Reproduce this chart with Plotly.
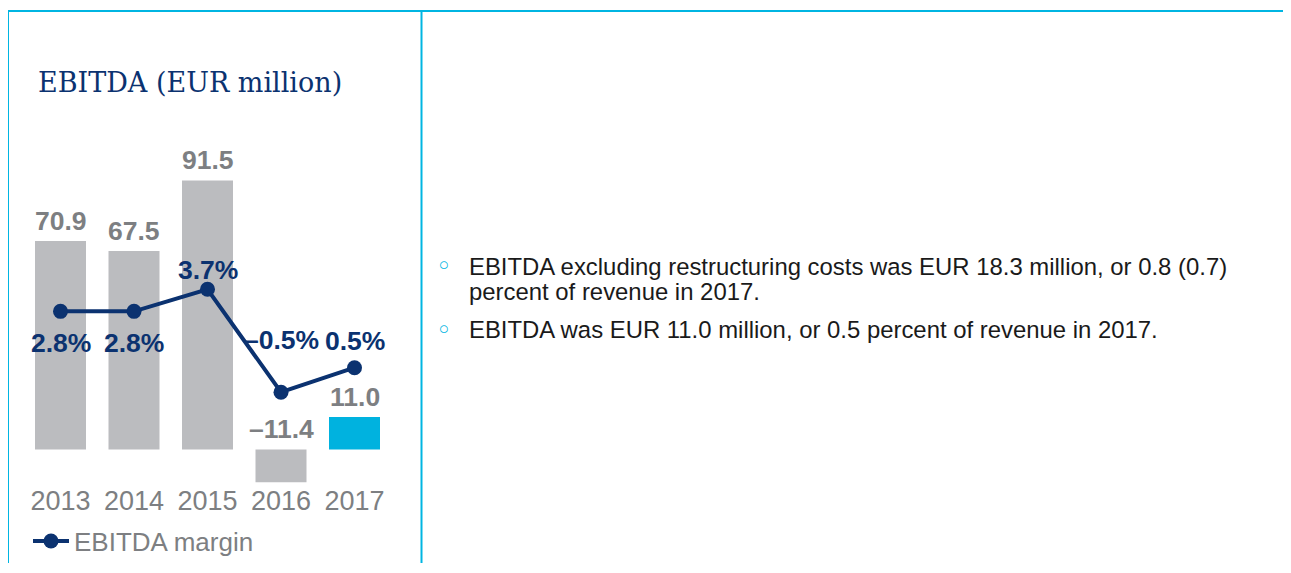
import plotly.graph_objects as go

# page body has an 8px margin: draw in a slightly smaller figure shifted by that offset
OFF = 8
W, H = 1291 - 2 * OFF, 573 - 2 * OFF

years = ["2013", "2014", "2015", "2016", "2017"]
ebitda = [70.9, 67.5, 91.5, -11.4, 11.0]
margin_pct = [2.8, 2.8, 3.7, -0.5, 0.5]
ebitda_labels = ["70.9", "67.5", "91.5", "–11.4", "11.0"]
margin_labels = ["2.8%", "2.8%", "3.7%", "–0.5%", "0.5%"]
bar_colors = ["#bbbcbf", "#bbbcbf", "#bbbcbf", "#bbbcbf", "#00b2df"]
margin_label_shift = [-32, -32, 19, 52, 27]
bullet_lines = [
    ["EBITDA excluding restructuring costs was EUR 18.3 million, or 0.8 (0.7)",
     "percent of revenue in 2017."],
    ["EBITDA was EUR 11.0 million, or 0.5 percent of revenue in 2017."],
]
title_text = "EBITDA (EUR million)"
legend_name = "EBITDA margin"

NAVY = "#0b3270"
GRAY_TXT = "#7d7f82"
CYAN = "#00b5e2"
SANS = "Liberation Sans, Arial, sans-serif"


def px_x(p):
    return (p - OFF) / W


def px_y(p):
    return 1 - (p - OFF) / H


# plot area (reference pixels)
Y_TOP, Y_BOT = 120, 484
BAR_ZERO, BAR_SCALE = 451, 2.95
LINE_ZERO, LINE_SCALE = 381.3, 24.6

fig = go.Figure()
fig.add_trace(go.Bar(
    x=years, y=ebitda, marker=dict(color=bar_colors, line=dict(width=0)),
    showlegend=False, hoverinfo="skip", xaxis="x", yaxis="y", cliponaxis=False,
))
fig.add_trace(go.Scatter(
    x=years, y=margin_pct, mode="lines+markers", name=legend_name,
    line=dict(color=NAVY, width=4), marker=dict(size=15, color=NAVY),
    xaxis="x2", yaxis="y2", showlegend=True, cliponaxis=False,
))

annotations = []
for i, (v, lab) in enumerate(zip(ebitda, ebitda_labels)):
    annotations.append(dict(
        x=i, y=max(v, 0), xref="x", yref="y", text="<b>" + lab + "</b>", showarrow=False,
        yanchor="middle", yshift=20,
        font=dict(family=SANS, size=26.5, color=GRAY_TXT),
    ))
for i, (v, lab, sh) in enumerate(zip(margin_pct, margin_labels, margin_label_shift)):
    annotations.append(dict(
        x=i, y=v, xref="x", yref="y2", text="<b>" + lab + "</b>", showarrow=False,
        yanchor="middle", yshift=sh,
        font=dict(family=SANS, size=26.5, color=NAVY),
    ))
# title
annotations.append(dict(
    x=px_x(36), y=px_y(83), xref="paper", yref="paper", text=title_text,
    showarrow=False, xanchor="left", yanchor="middle",
    font=dict(family="DejaVu Serif, serif", size=27, color=NAVY),
))
# bullets
line_y = [[267, 293], [331]]
for lines, ys in zip(bullet_lines, line_y):
    annotations.append(dict(
        x=px_x(443), y=px_y(ys[0]), xref="paper", yref="paper", text="◦",
        showarrow=False, xanchor="center", yanchor="middle",
        font=dict(family="DejaVu Sans, sans-serif", size=26, color=CYAN),
    ))
    for t, ty in zip(lines, ys):
        annotations.append(dict(
            x=px_x(467), y=px_y(ty), xref="paper", yref="paper", text=t,
            showarrow=False, xanchor="left", yanchor="middle", align="left",
            font=dict(family=SANS, size=23.9, color="#1a1a1a"),
        ))

shapes = [
    dict(type="line", xref="paper", yref="paper", x0=px_x(7), x1=1, y0=px_y(11), y1=px_y(11),
         line=dict(color=CYAN, width=2)),
    dict(type="line", xref="paper", yref="paper", x0=px_x(8), x1=px_x(8), y0=px_y(10), y1=0,
         line=dict(color=CYAN, width=2)),
    dict(type="line", xref="paper", yref="paper", x0=px_x(421.5), x1=px_x(421.5), y0=px_y(10), y1=0,
         line=dict(color=CYAN, width=2)),
]

fig.update_layout(
    width=W, height=H, margin=dict(l=0, r=0, t=0, b=0),
    paper_bgcolor="white", plot_bgcolor="rgba(0,0,0,0)",
    bargap=0.306,
    xaxis=dict(domain=[px_x(23.75), px_x(391.25)], type="category", range=[-0.5, 4.5],
               showgrid=False, zeroline=False, showline=False, ticks="",
               tickfont=dict(family=SANS, size=27, color=GRAY_TXT), anchor="y"),
    yaxis=dict(domain=[px_y(Y_BOT), px_y(Y_TOP)],
               range=[(BAR_ZERO - Y_BOT) / BAR_SCALE, (BAR_ZERO - Y_TOP) / BAR_SCALE],
               visible=False, showgrid=False, zeroline=False),
    xaxis2=dict(domain=[px_x(34.85), px_x(366.15)], type="category", range=[-0.5, 4.5],
                overlaying="x", visible=False, anchor="y2"),
    yaxis2=dict(domain=[px_y(Y_BOT), px_y(Y_TOP)],
                range=[(LINE_ZERO - Y_BOT) / LINE_SCALE, (LINE_ZERO - Y_TOP) / LINE_SCALE],
                overlaying="y", visible=False, anchor="x2"),
    legend=dict(x=px_x(28), y=px_y(543), xanchor="left", yanchor="middle",
                font=dict(family=SANS, size=26, color=GRAY_TXT), bgcolor="rgba(0,0,0,0)",
                itemwidth=36),
    annotations=annotations, shapes=shapes,
)

fig.write_html("out.html")
